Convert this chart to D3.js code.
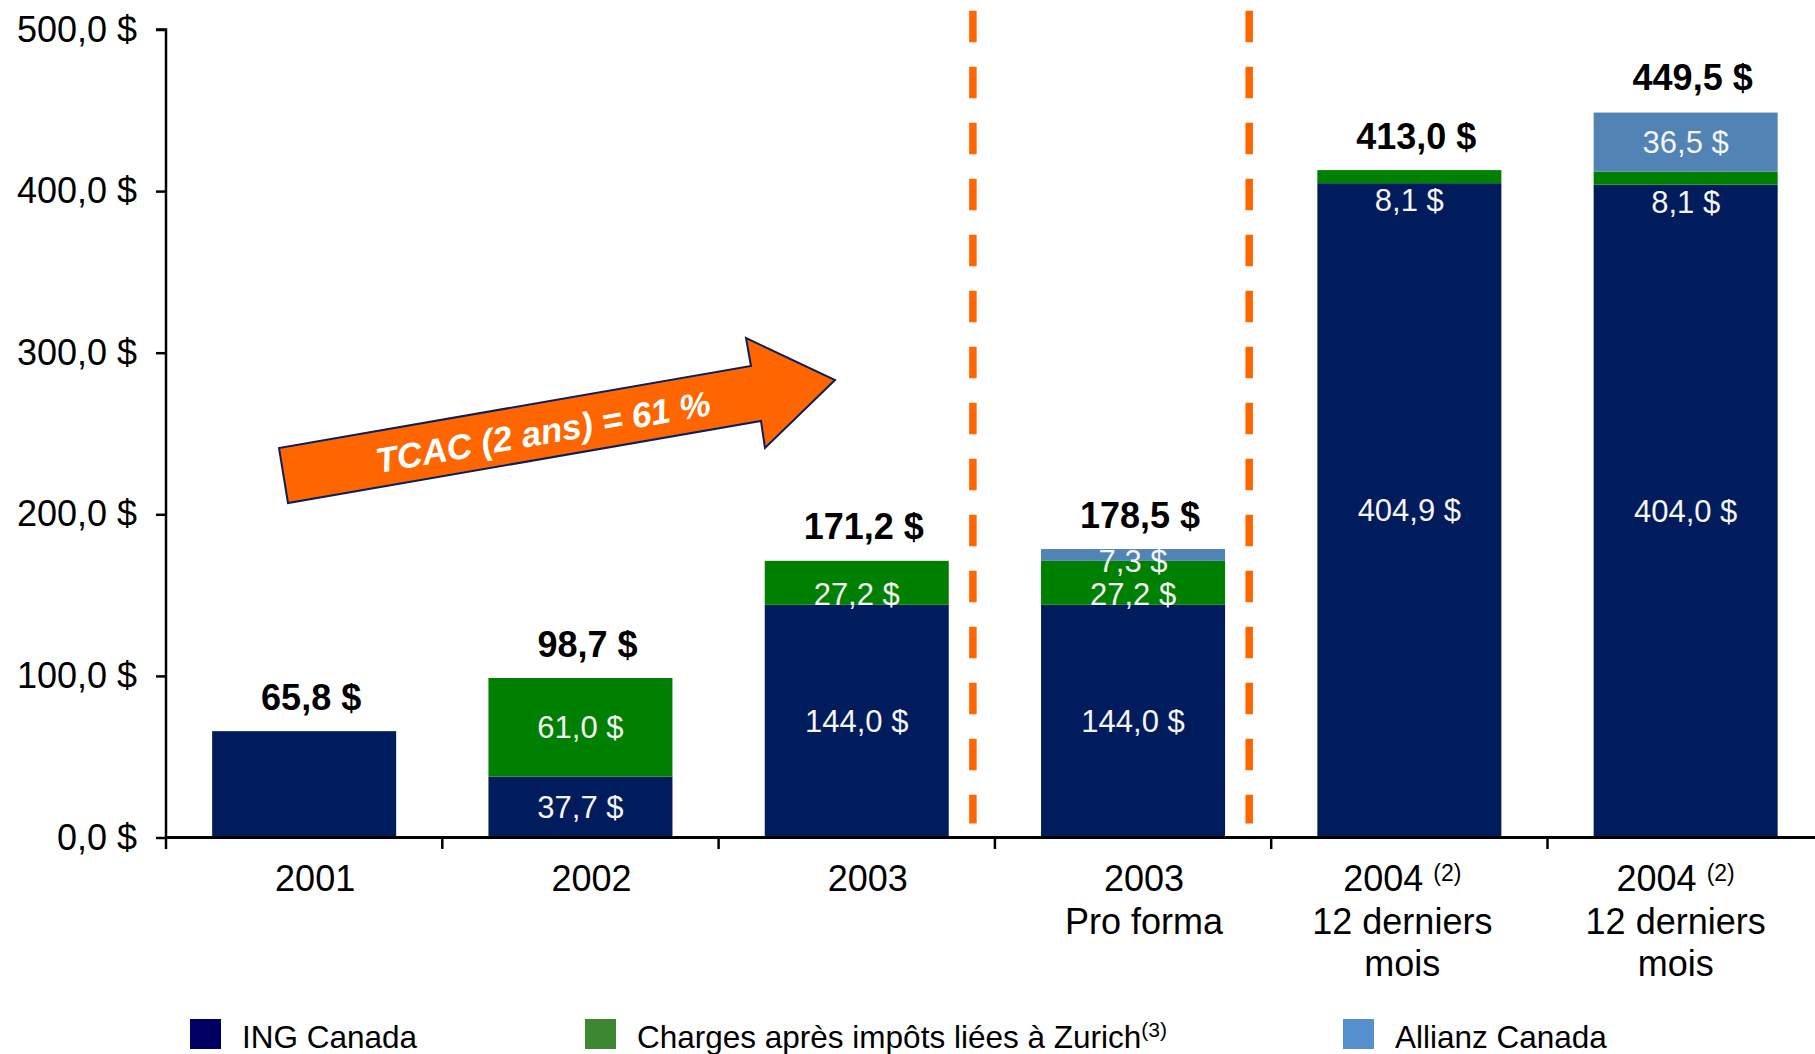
<!DOCTYPE html>
<html>
<head>
<meta charset="utf-8">
<script src="https://cdn.jsdelivr.net/npm/d3@7"></script>
<style>
  body { margin: 0; background: #fff; }
  svg { display: block; font-family: "Liberation Sans", Arial, sans-serif; }
</style>
</head>
<body>
<svg width="1815" height="1054"></svg>
<script>
// categories (lines of each x label)
var categories = ["2001", "2002", "2003", "2003 PF", "2004 A", "2004 B"];
var catLines = [["2001"], ["2002"], ["2003"], ["2003", "Pro forma"],
                ["2004", "12 derniers", "mois"], ["2004", "12 derniers", "mois"]];
var catSup = ["", "", "", "", "(2)", "(2)"];
var ing     = [65.8, 37.7, 144.0, 144.0, 404.9, 404.0];
var zurich  = [0, 61.0, 27.2, 27.2, 8.1, 8.1];
var allianz = [0, 0, 0, 7.3, 0, 36.5];
var totals  = [65.8, 98.7, 171.2, 178.5, 413.0, 449.5];
var yTicks  = [0, 100, 200, 300, 400, 500];
var seriesKeys = ["ing", "zurich", "allianz"];
var seriesNames = ["ING Canada", "Charges après impôts liées à Zurich", "Allianz Canada"];

var barColor = { ing: "#001c5c", zurich: "#008000", allianz: "#5183b4" };
var legColor = { ing: "#000062", zurich: "#3d8732", allianz: "#558fce" };

var svg = d3.select("svg");

var fr = d3.formatLocale({ decimal: ",", thousands: " ", grouping: [3], currency: ["", " $"] });
var fmt = fr.format("$.1f");

//scales
var x = d3.scaleBand().domain(categories).range([166, 166 + 6 * 276.3])
    .paddingInner(0.334).paddingOuter(0.167);
var y = d3.scaleLinear().domain([0, 500]).range([837.5, 29.5]);

var table = categories.map(function(c, i) {
    return { cat: c, ing: ing[i], zurich: zurich[i], allianz: allianz[i] };
});
var stack = d3.stack().keys(seriesKeys)(table);

//bars
var gBars = svg.append("g").attr("id", "bars");
stack.forEach(function(layer) {
    gBars.append("g").attr("fill", barColor[layer.key])
        .selectAll("rect").data(layer.filter(function(d) { return d[1] > d[0]; }))
        .enter().append("rect")
        .attr("x", function(d) { return x(d.data.cat); })
        .attr("width", x.bandwidth())
        .attr("y", function(d) { return y(d[1]); })
        .attr("height", function(d) { return y(d[0]) - y(d[1]); });
});

//segment labels (skip the single-segment 2001 bar)
var gLab = svg.append("g").attr("fill", "#f4f4f4").attr("font-size", 31)
    .attr("text-anchor", "middle");
stack.forEach(function(layer) {
    layer.forEach(function(d, i) {
        var v = d[1] - d[0];
        if (v <= 0 || i === 0) return;
        var top = y(d[1]), bot = y(d[0]), h = bot - top;
        var cy = (top + bot) / 2;
        if (h < 16) cy += (layer.key === "zurich" ? 24 : 6);
        else if (h < 50) cy += 11;
        gLab.append("text")
            .attr("x", x(d.data.cat) + x.bandwidth() / 2)
            .attr("y", cy).attr("dy", "0.35em")
            .text(fmt(v));
    });
});

//totals
svg.append("g").attr("font-size", 36).attr("font-weight", "bold")
    .attr("text-anchor", "middle").attr("fill", "#000")
    .selectAll("text").data(categories).enter().append("text")
    .attr("x", function(c) { return x(c) + x.bandwidth() / 2 + 7; })
    .attr("y", function(c, i) { return y(totals[i]) - 34; })
    .attr("dy", "0.35em")
    .text(function(c, i) { return fmt(totals[i]); });

//dashed separators
[2, 3].forEach(function(i) {
    var xx = x(categories[i]) + x.bandwidth() + (x.step() - x.bandwidth()) / 2 - 22;
    svg.append("line")
        .attr("x1", xx).attr("x2", xx).attr("y1", 10.7).attr("y2", 823.5)
        .attr("stroke", "#ff6600").attr("stroke-width", 7.5)
        .attr("stroke-dasharray", "31.6 24.4");
});

//y axis
var yAxis = d3.axisLeft(y).tickValues(yTicks).tickFormat(fmt).tickSize(10).tickPadding(19);
var gy = svg.append("g").attr("transform", "translate(166,0)").call(yAxis);
gy.select(".domain").attr("stroke", "#000").attr("stroke-width", 2.5).attr("d", "M-10,29.5H0V837.5");
gy.selectAll(".tick line").attr("stroke", "#000").attr("stroke-width", 2.5);
gy.selectAll(".tick text").attr("font-size", 36).attr("fill", "#000")
    .attr("font-family", "Liberation Sans, Arial, sans-serif");

//x axis line and boundary ticks
svg.append("line").attr("x1", 166).attr("x2", 1815).attr("y1", 837.5).attr("y2", 837.5)
    .attr("stroke", "#000").attr("stroke-width", 3);
var bounds = categories.map(function(c) { return x(c) - (x.step() - x.bandwidth()) / 2; });
svg.append("g").selectAll("line").data(bounds).enter().append("line")
    .attr("x1", function(d) { return d; }).attr("x2", function(d) { return d; })
    .attr("y1", 837.5).attr("y2", 849)
    .attr("stroke", "#000").attr("stroke-width", 2.5);

//category labels
var catNudge = [11, 11, 11, 11, -7, -10];
var gCat = svg.append("g").attr("font-size", 36).attr("text-anchor", "middle").attr("fill", "#000");
categories.forEach(function(c, i) {
    var cx = x(c) + x.bandwidth() / 2 + catNudge[i];
    catLines[i].forEach(function(line, k) {
        var t = gCat.append("text").attr("x", cx).attr("y", 891 + k * 42.5).text(line);
        if (k === 0 && catSup[i]) {
            t.append("tspan").text("\u00a0");
            t.append("tspan").attr("font-size", 23).attr("dy", -10).text(catSup[i]);
        }
    });
});

//growth arrow
var arrowPts = [[288, 503], [279, 448], [751, 366], [746, 338], [835, 380], [765, 448], [761, 421]];
svg.append("polygon")
    .attr("points", arrowPts.map(function(p) { return p.join(","); }).join(" "))
    .attr("fill", "#ff6600").attr("stroke", "#0a1f5c").attr("stroke-width", 2);
svg.append("text")
    .attr("transform", "translate(543,432) rotate(-9.9)")
    .attr("text-anchor", "middle").attr("dy", "0.35em")
    .attr("font-size", 35).attr("font-weight", "bold").attr("font-style", "italic")
    .attr("fill", "#fff")
    .text("TCAC (2 ans) = 61 %");

//legend
var legX = [190, 585, 1343];
var gLeg = svg.append("g");
seriesKeys.forEach(function(k, i) {
    gLeg.append("rect").attr("x", legX[i]).attr("y", 1019).attr("width", 31).attr("height", 30)
        .attr("fill", legColor[k]);
    var t = gLeg.append("text").attr("x", legX[i] + 52).attr("y", 1048)
        .attr("font-size", 31.5).attr("fill", "#000").text(seriesNames[i]);
    if (k === "zurich") {
        t.append("tspan").attr("font-size", 21).attr("dy", -11).text("(3)");
    }
});
</script>
</body>
</html>
